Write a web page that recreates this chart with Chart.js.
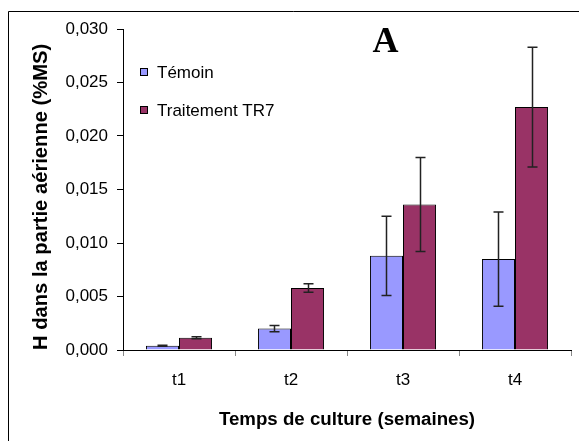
<!DOCTYPE html>
<html>
<head>
<meta charset="utf-8">
<script src="https://cdn.jsdelivr.net/npm/chart.js@4.4.0/dist/chart.umd.min.js"></script>
<style>
  body { margin: 0; background: #fff; }
  canvas { display: block; }
</style>
</head>
<body>
<canvas id="chart" width="579" height="441" style="width:579px;height:441px"></canvas>
<script>
const categories = ['t1', 't2', 't3', 't4'];
const temoin = [0.0004, 0.0020, 0.0088, 0.0085];
const temoinErr = [0.00005, 0.0003, 0.0037, 0.0044];
const tr7 = [0.00115, 0.0058, 0.0136, 0.0227];
const tr7Err = [0.0001, 0.0004, 0.0044, 0.0056];
const yTicks = [0, 0.005, 0.010, 0.015, 0.020, 0.025, 0.030];

const FONT = '"Liberation Sans", Arial, sans-serif';

// frame around the figure (only left and top are visible in the picture)
const framePlugin = {
  id: 'frame',
  beforeDraw(chart) {
    const ctx = chart.ctx;
    ctx.save();
    ctx.fillStyle = '#fff';
    ctx.fillRect(0, 0, chart.width, chart.height);
    ctx.strokeStyle = '#000';
    ctx.lineWidth = 1;
    ctx.beginPath();
    ctx.moveTo(8.5, chart.height);
    ctx.lineTo(8.5, 11.5);
    ctx.lineTo(chart.width, 11.5);
    ctx.stroke();
    ctx.restore();
  }
};

// error bars, drawn through the y scale
const errorBarPlugin = {
  id: 'errorBars',
  afterDatasetsDraw(chart) {
    const ctx = chart.ctx;
    const y = chart.scales.y;
    ctx.save();
    ctx.strokeStyle = '#222';
    ctx.lineWidth = 1.5;
    chart.data.datasets.forEach((ds, i) => {
      const meta = chart.getDatasetMeta(i);
      meta.data.forEach((bar, j) => {
        const v = ds.data[j], e = ds.errors[j];
        const yTop = y.getPixelForValue(v + e);
        const yBot = y.getPixelForValue(v - e);
        const x = Math.round(bar.x) + 0.5;
        ctx.beginPath();
        ctx.moveTo(x, yTop); ctx.lineTo(x, yBot);
        ctx.moveTo(x - 5, yTop); ctx.lineTo(x + 5, yTop);
        ctx.moveTo(x - 5, yBot); ctx.lineTo(x + 5, yBot);
        ctx.stroke();
      });
    });
    ctx.restore();
  }
};

// legend inside the plot area + panel letter
const legendPlugin = {
  id: 'innerLegend',
  afterDraw(chart) {
    const ctx = chart.ctx;
    ctx.save();
    chart.data.datasets.forEach((ds, i) => {
      const cy = 72 + i * 38;
      ctx.fillStyle = ds.backgroundColor;
      ctx.fillRect(140.5, cy - 3.5, 7, 7);
      ctx.strokeStyle = '#000';
      ctx.lineWidth = 1;
      ctx.strokeRect(140.5, cy - 3.5, 7, 7);
      ctx.fillStyle = '#000';
      ctx.font = '17px ' + FONT;
      ctx.textBaseline = 'middle';
      ctx.textAlign = 'left';
      ctx.fillText(ds.label, 157, cy + 1);
    });
    ctx.font = 'bold 36px "Liberation Serif", "Times New Roman", serif';
    ctx.textAlign = 'center';
    ctx.textBaseline = 'alphabetic';
    ctx.fillText('A', 385.5, 52);
    ctx.restore();
  }
};

new Chart(document.getElementById('chart'), {
  type: 'bar',
  data: {
    labels: categories,
    datasets: [
      {
        label: 'Témoin',
        data: temoin,
        errors: temoinErr,
        backgroundColor: '#9999FF',
        borderColor: '#000',
        borderWidth: 1,
        categoryPercentage: 0.59,
        barPercentage: 1
      },
      {
        label: 'Traitement TR7',
        data: tr7,
        errors: tr7Err,
        backgroundColor: '#993366',
        borderColor: '#000',
        borderWidth: 1,
        categoryPercentage: 0.59,
        barPercentage: 1
      }
    ]
  },
  options: {
    responsive: false,
    animation: false,
    layout: { padding: { top: 29, right: 8, left: 0, bottom: 0 } },
    plugins: {
      legend: { display: false },
      tooltip: { enabled: false }
    },
    scales: {
      x: {
        afterFit(s) { s.height = 91; },
        grid: { offset: true, drawOnChartArea: false, tickLength: 6, color: '#888' },
        border: { color: '#000', width: 1 },
        ticks: { color: '#000', font: { family: FONT, size: 17 }, padding: 14 },
        title: {
          display: true,
          text: 'Temps de culture (semaines)',
          color: '#000',
          font: { family: FONT, size: 18.7, weight: 'bold' },
          padding: { top: 0, bottom: 10 }
        }
      },
      y: {
        min: 0,
        max: 0.03,
        afterFit(s) { s.width = 123; },
        afterBuildTicks(s) { s.ticks = yTicks.map(v => ({ value: v })); },
        grid: { drawOnChartArea: false, tickLength: 6, color: '#000' },
        border: { color: '#000', width: 1 },
        ticks: {
          color: '#000',
          font: { family: FONT, size: 17 },
          padding: 9,
          callback: v => v.toFixed(3).replace('.', ',')
        },
        title: {
          display: true,
          align: 'start',
          text: 'H dans la partie aérienne (%MS)',
          color: '#000',
          font: { family: FONT, size: 20.2, weight: 'bold' },
          padding: { top: 29, bottom: 0 }
        }
      }
    }
  },
  plugins: [framePlugin, errorBarPlugin, legendPlugin]
});
</script>
</body>
</html>
